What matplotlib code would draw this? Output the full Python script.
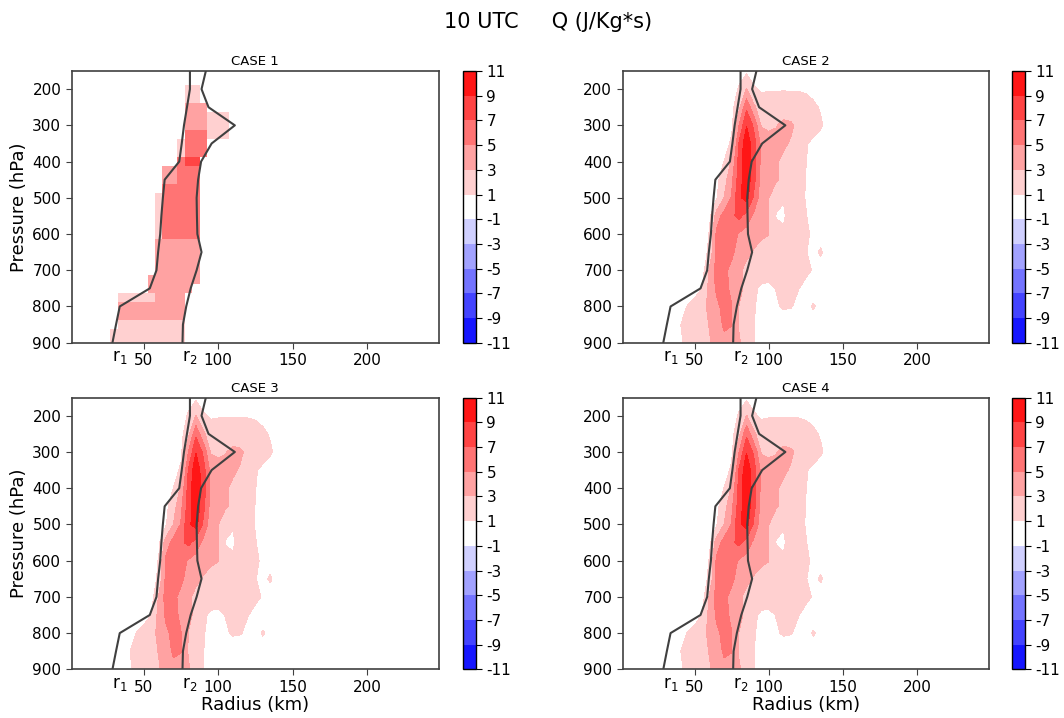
import numpy as np
import matplotlib.pyplot as plt
from matplotlib.colors import ListedColormap, BoundaryNorm

plt.rcParams['axes.unicode_minus'] = False

# Radial / vertical grid for the smooth heating field (cases 2-4)
radius_km = [35, 40, 45, 50, 55, 60, 65, 70, 75, 80, 85, 90, 95, 100,
             105, 110, 115, 120, 125, 130, 135, 140, 145]
pressure_hpa = [150, 200, 250, 300, 350, 400, 450, 500, 550, 600, 650,
                700, 750, 800, 850, 900]

# Q (J/Kg*s), one row per pressure level
q_cases = [
    [0, 0, 0, 0, 0, 0, 0, 0, 0, 0.3, 0.6, 0.3, 0, 0, 0, 0, 0, 0, 0, 0, 0, 0, 0],
    [0, 0, 0, 0, 0, 0, 0, 0, 0.2, 1.2, 3.1, 1.2, 0.8, 0.9, 0.9, 0.9, 0.9, 0.9, 0.8, 0.4, 0.1, 0, 0],
    [0, 0, 0, 0, 0, 0, 0, 0, 0.4, 2.4, 6.6, 3.4, 1.8, 1.7, 1.8, 1.9, 1.8, 1.7, 1.6, 1.4, 0.8, 0.2, 0],
    [0, 0, 0, 0, 0, 0, 0, 0, 0.5, 5.0, 8.9, 6.6, 2.8, 2.6, 2.9, 3.5, 3.3, 2.5, 2.2, 2.0, 1.3, 0.3, 0],
    [0, 0, 0, 0, 0, 0, 0, 0, 1.4, 7.2, 10.4, 7.8, 4.4, 3.8, 3.6, 3.3, 2.8, 2.0, 1.2, 0.5, 0, 0, 0],
    [0, 0, 0, 0, 0, 0, 0, 1.05, 3.3, 7.8, 10.6, 8.0, 4.4, 3.9, 3.2, 2.6, 2.2, 1.8, 1.05, 0.3, 0, 0, 0],
    [0, 0, 0, 0, 0, 0, 0.5, 2.2, 4.5, 8.0, 10.4, 7.6, 4.2, 3.6, 3.2, 2.6, 2.2, 1.8, 0.95, 0.3, 0, 0, 0],
    [0, 0, 0, 0, 0, 0.2, 0.9, 3.05, 5.2, 8.6, 9.8, 6.6, 3.8, 3.05, 1.5, 1.1, 1.8, 1.6, 0.9, 0.2, 0, 0, 0],
    [0, 0, 0, 0, 0, 0.5, 4.0, 5.8, 6.6, 7.5, 6.2, 4.5, 3.8, 3.05, 0.9, 0.8, 1.6, 1.5, 1.1, 0.3, 0, 0, 0],
    [0, 0, 0, 0, 0, 1.1, 5.5, 6.2, 5.8, 4.8, 4.2, 3.8, 3.4, 3.05, 1.6, 1.2, 1.6, 1.7, 1.4, 0.6, 0, 0, 0],
    [0, 0, 0, 0, 0, 1.4, 5.6, 6.0, 5.4, 4.2, 3.5, 2.8, 2.2, 2.0, 1.8, 1.8, 1.7, 1.6, 1.1, 0.4, 1.3, 0, 0],
    [0, 0, 0, 0, 0, 3.2, 5.8, 5.4, 4.5, 3.4, 2.4, 1.8, 1.6, 1.6, 1.6, 1.6, 1.5, 1.5, 1.3, 0.9, 0, 0, 0],
    [0, 0, 0, 0, 1.05, 3.6, 5.4, 5.6, 4.6, 3.4, 2.6, 1.2, 0.8, 0.7, 1.05, 1.4, 1.3, 1.05, 0.6, 0, 0, 0, 0],
    [0, 0, 1.05, 1.8, 2.4, 3.4, 4.6, 5.6, 5.05, 2.95, 2.2, 1.1, 0.6, 0.5, 0.8, 1.2, 1.1, 0.6, 0.3, 1.2, 0.5, 0, 0],
    [0, 0.9, 1.6, 1.8, 2.2, 3.1, 4.2, 5.3, 5.05, 2.8, 2.0, 1.05, 0.3, 0, 0, 0, 0, 0, 0, 0, 0, 0, 0],
    [0, 0.6, 1.5, 1.7, 2.0, 2.8, 3.8, 4.5, 4.4, 3.2, 2.2, 1.05, 0.2, 0, 0, 0, 0, 0, 0, 0, 0, 0, 0],
]

# Case 1: coarse layer-averaged field between r1 and r2
radius_c1 = [30, 35, 40, 45, 50, 55, 60, 65, 70, 75, 80, 85, 90, 95, 100, 105, 110]
pressure_c1 = list(range(150, 901, 25))
q_case1 = [
    [0, 0, 0, 0, 0, 0, 0, 0, 0, 0, 0, 0, 0, 0, 0, 0, 0],  # 150
    [0, 0, 0, 0, 0, 0, 0, 0, 0, 0, 0, 0, 0, 0, 0, 0, 0],  # 175
    [0, 0, 0, 0, 0, 0, 0, 0, 0, 0, 2, 2, 0, 0, 0, 0, 0],  # 200
    [0, 0, 0, 0, 0, 0, 0, 0, 0, 0, 2, 2, 0, 0, 0, 0, 0],  # 225
    [0, 0, 0, 0, 0, 0, 0, 0, 0, 0, 4, 4, 4, 0, 0, 0, 0],  # 250
    [0, 0, 0, 0, 0, 0, 0, 0, 0, 0, 4, 4, 4, 2, 2, 2, 0],  # 275
    [0, 0, 0, 0, 0, 0, 0, 0, 0, 0, 4, 4, 4, 2, 2, 2, 0],  # 300
    [0, 0, 0, 0, 0, 0, 0, 0, 0, 0, 6, 6, 6, 2, 2, 2, 0],  # 325
    [0, 0, 0, 0, 0, 0, 0, 0, 0, 2, 6, 6, 6, 0, 0, 0, 0],  # 350
    [0, 0, 0, 0, 0, 0, 0, 0, 0, 2, 6, 6, 6, 0, 0, 0, 0],  # 375
    [0, 0, 0, 0, 0, 0, 0, 0, 0, 6, 8, 8, 0, 0, 0, 0, 0],  # 400
    [0, 0, 0, 0, 0, 0, 0, 4, 4, 6, 6, 6, 0, 0, 0, 0, 0],  # 425
    [0, 0, 0, 0, 0, 0, 0, 4, 4, 6, 6, 6, 0, 0, 0, 0, 0],  # 450
    [0, 0, 0, 0, 0, 0, 0, 6, 6, 6, 6, 6, 0, 0, 0, 0, 0],  # 475
    [0, 0, 0, 0, 0, 0, 2, 6, 6, 6, 6, 6, 0, 0, 0, 0, 0],  # 500
    [0, 0, 0, 0, 0, 0, 2, 6, 6, 6, 6, 6, 0, 0, 0, 0, 0],  # 525
    [0, 0, 0, 0, 0, 0, 2, 6, 6, 6, 6, 6, 0, 0, 0, 0, 0],  # 550
    [0, 0, 0, 0, 0, 0, 2, 6, 6, 6, 6, 6, 0, 0, 0, 0, 0],  # 575
    [0, 0, 0, 0, 0, 0, 2, 6, 6, 6, 6, 6, 0, 0, 0, 0, 0],  # 600
    [0, 0, 0, 0, 0, 0, 4, 4, 4, 4, 4, 4, 0, 0, 0, 0, 0],  # 625
    [0, 0, 0, 0, 0, 0, 4, 4, 4, 4, 4, 4, 0, 0, 0, 0, 0],  # 650
    [0, 0, 0, 0, 0, 0, 4, 4, 4, 4, 4, 4, 0, 0, 0, 0, 0],  # 675
    [0, 0, 0, 0, 0, 0, 4, 4, 4, 4, 4, 4, 0, 0, 0, 0, 0],  # 700
    [0, 0, 0, 0, 0, 4, 4, 4, 4, 4, 4, 4, 0, 0, 0, 0, 0],  # 725
    [0, 0, 0, 0, 0, 4, 4, 4, 4, 4, 4, 0, 0, 0, 0, 0, 0],  # 750
    [0, 2, 2, 2, 2, 2, 4, 4, 4, 4, 0, 0, 0, 0, 0, 0, 0],  # 775
    [0, 4, 4, 4, 4, 4, 4, 4, 4, 4, 0, 0, 0, 0, 0, 0, 0],  # 800
    [0, 4, 4, 4, 4, 4, 4, 4, 4, 4, 0, 0, 0, 0, 0, 0, 0],  # 825
    [0, 2, 2, 2, 2, 2, 2, 2, 2, 2, 0, 0, 0, 0, 0, 0, 0],  # 850
    [2, 2, 2, 2, 2, 2, 2, 2, 2, 2, 0, 0, 0, 0, 0, 0, 0],  # 875
    [2, 2, 2, 2, 2, 2, 2, 2, 2, 2, 0, 0, 0, 0, 0, 0, 0],  # 900
]

# r1 / r2 boundaries
line_p = [150, 200, 250, 300, 350, 400, 450, 500, 550, 600, 650, 700, 750, 800, 850, 900]
r1_km = [81, 81, 79, 77, 75.5, 73.8, 64, 62.8, 61.8, 61, 59.6, 58.5, 54, 33.8, 31.3, 28.9]
r2_km = [91.7, 88.8, 93.5, 111.2, 95.6, 88.5, 86.5, 85.5, 85.7, 86, 88.8, 85.5, 81.5, 78.5, 76.3, 76]

titles = ['CASE 1', 'CASE 2', 'CASE 3', 'CASE 4']
levels = np.arange(-11, 12, 2)

mids = (levels[:-1] + levels[1:]) / 2
colors = plt.cm.bwr((mids - levels[0]) / (levels[-1] - levels[0]))
colors[len(mids) // 2] = (1, 1, 1, 1)
cmap = ListedColormap(colors)
norm = BoundaryNorm(levels, cmap.N)

fig = plt.figure(figsize=(10.64, 7.18), dpi=100)

ax_pos = [[0.0674, 0.5227, 0.3452, 0.3784], [0.5852, 0.5227, 0.3443, 0.3784],
          [0.0674, 0.0678, 0.3452, 0.3784], [0.5852, 0.0678, 0.3443, 0.3784]]
cb_x = [0.4349, 0.9508, 0.4349, 0.9508]

edge = '0.25'
for i in range(4):
    ax = fig.add_axes(ax_pos[i])
    if i == 0:
        m = ax.pcolormesh(radius_c1, pressure_c1, np.array(q_case1), cmap=cmap,
                          norm=norm, shading='nearest')
    else:
        m = ax.contourf(radius_km, pressure_hpa, np.array(q_cases), levels=levels,
                        cmap=cmap, norm=norm)
    ax.plot(r1_km, line_p, color=edge, lw=1.5)
    ax.plot(r2_km, line_p, color=edge, lw=1.5)

    ax.set_xlim(1.5, 248.5)
    ax.set_ylim(900, 150)
    ax.set_xticks([50, 100, 150, 200])
    ax.set_yticks(range(200, 901, 100))
    ax.tick_params(labelsize=11, color=edge, length=4)
    for s in ax.spines.values():
        s.set_color(edge)
        s.set_linewidth(1.2)
    ax.set_title(titles[i], fontsize=9.5, pad=4)
    if i % 2 == 0:
        ax.set_ylabel('Pressure (hPa)', fontsize=13, labelpad=3)
    if i >= 2:
        ax.set_xlabel('Radius (km)', fontsize=13, labelpad=1)

    for rv, lab in [(r1_km[-1], r'$\mathrm{r}_1$'), (r2_km[-1], r'$\mathrm{r}_2$')]:
        ax.annotate(lab, xy=(rv, 0), xycoords=('data', 'axes fraction'),
                    xytext=(0, -4), textcoords='offset points',
                    ha='left', va='top', fontsize=12)

    p = ax_pos[i]
    cax = fig.add_axes([cb_x[i], p[1], 0.0125, p[3]])
    cb = fig.colorbar(m, cax=cax, ticks=levels)
    cb.ax.tick_params(labelsize=11, length=4)
    cb.outline.set_linewidth(1.0)

fig.suptitle('10 UTC     Q (J/Kg*s)', x=0.515, y=0.969, va='center', fontsize=15)

fig.savefig('out.png', dpi=100)
